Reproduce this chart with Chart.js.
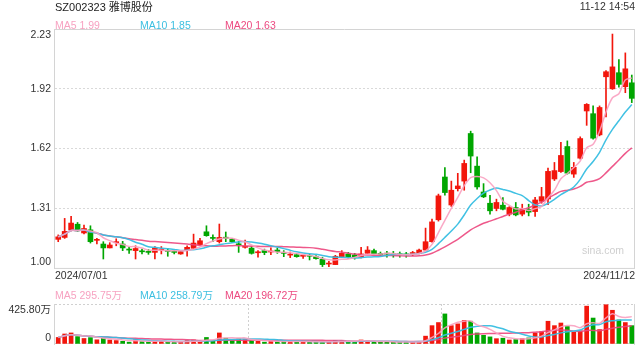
<!DOCTYPE html>
<html><head><meta charset="utf-8">
<script src="https://cdn.jsdelivr.net/npm/chart.js@4.4.1/dist/chart.umd.min.js"></script>
<style>
html,body{margin:0;padding:0;background:#fff;width:640px;height:360px;overflow:hidden;font-family:"Liberation Sans",Arial,"Noto Sans CJK SC",sans-serif;}
canvas{position:absolute;left:0;}
#main{top:0;}
#vol{top:284px;}
.t{position:absolute;white-space:nowrap;font-size:10.5px;line-height:12px;}
</style></head><body>
<canvas id="main" width="640" height="284"></canvas>
<canvas id="vol" width="640" height="76"></canvas>
<div class="t" style="left:55px;top:1px;font-size:11px;color:#222">SZ002323 雅博股份</div>
<div class="t" style="right:5px;top:0px;font-size:10.5px;color:#333">11-12 14:54</div>
<div class="t" style="left:55px;top:18.7px;color:#f7a2c1">MA5 1.99</div>
<div class="t" style="left:140px;top:18.7px;color:#3cbfe0">MA10 1.85</div>
<div class="t" style="left:225px;top:18.7px;color:#ec4a80">MA20 1.63</div>
<div class="t" style="left:582px;top:243.7px;color:#cfcfcf">sina.com</div>
<div class="t" style="left:55px;top:289.4px;color:#f7a2c1">MA5 295.75万</div>
<div class="t" style="left:140px;top:289.4px;color:#3cbfe0">MA10 258.79万</div>
<div class="t" style="left:225px;top:289.4px;color:#ec4a80">MA20 196.72万</div>
<script>
// ---- data ----
const dates = ['07-01','07-02','07-03','07-04','07-05','07-08','07-09','07-10','07-11','07-12','07-15','07-16','07-17','07-18','07-19','07-22','07-23','07-24','07-25','07-26','07-29','07-30','07-31',
'08-01','08-02','08-05','08-06','08-07','08-08','08-09','08-12','08-13','08-14','08-15','08-16','08-19','08-20','08-21','08-22','08-23','08-26','08-27','08-28','08-29','08-30',
'09-02','09-03','09-04','09-05','09-06','09-09','09-10','09-11','09-12','09-13','09-18','09-19','09-20','09-23','09-24','09-25','09-26','09-27','09-30',
'10-08','10-09','10-10','10-11','10-14','10-15','10-16','10-17','10-18','10-21','10-22','10-23','10-24','10-25','10-28','10-29','10-30','10-31',
'11-01','11-04','11-05','11-06','11-07','11-08','11-11','11-12'];
const open  = [1.147,1.157,1.196,1.225,1.180,1.196,1.142,1.123,1.103,1.130,1.123,1.094,1.089,1.085,1.082,1.080,1.092,1.088,1.082,1.072,1.094,1.101,1.120,1.186,1.153,1.135,1.155,1.148,1.121,1.106,
1.102,1.078,1.089,1.082,1.092,1.077,1.066,1.068,1.060,1.062,1.058,1.045,1.020,1.017,1.058,1.072,1.067,1.055,1.075,1.089,1.075,1.072,1.069,1.069,1.068,1.074,1.075,1.092,1.135,1.248,
1.468,1.324,1.408,1.447,1.692,1.524,1.391,1.333,1.306,1.323,1.277,1.311,1.277,1.302,1.290,1.343,1.355,1.458,1.496,1.625,1.483,1.565,1.808,1.794,1.685,1.984,1.922,2.005,1.933,1.953];
const high  = [1.170,1.255,1.265,1.234,1.220,1.217,1.152,1.135,1.130,1.150,1.137,1.106,1.114,1.097,1.095,1.110,1.110,1.100,1.090,1.087,1.114,1.174,1.152,1.217,1.170,1.226,1.185,1.152,1.137,1.143,
1.114,1.089,1.097,1.103,1.103,1.089,1.082,1.075,1.066,1.070,1.063,1.055,1.034,1.065,1.089,1.080,1.075,1.106,1.110,1.097,1.082,1.085,1.085,1.082,1.080,1.085,1.097,1.205,1.251,1.380,
1.516,1.447,1.487,1.555,1.704,1.572,1.434,1.374,1.354,1.362,1.316,1.337,1.328,1.328,1.364,1.415,1.514,1.543,1.646,1.654,1.543,1.675,1.846,1.834,1.834,2.016,2.204,2.073,2.107,1.993];
const low   = [1.135,1.152,1.191,1.188,1.175,1.128,1.123,1.046,1.103,1.114,1.089,1.075,1.046,1.072,1.070,1.046,1.072,1.060,1.072,1.070,1.060,1.097,1.117,1.163,1.135,1.128,1.135,1.130,1.080,1.102,
1.071,1.055,1.068,1.068,1.075,1.058,1.053,1.055,1.049,1.041,1.045,1.007,1.007,1.017,1.055,1.050,1.045,1.051,1.072,1.068,1.063,1.055,1.055,1.055,1.055,1.063,1.072,1.089,1.132,1.241,
1.374,1.316,1.396,1.400,1.490,1.405,1.362,1.277,1.294,1.299,1.268,1.268,1.268,1.268,1.265,1.333,1.326,1.450,1.492,1.483,1.466,1.560,1.734,1.663,1.680,1.777,1.919,1.931,1.902,1.851];
const close = [1.160,1.188,1.231,1.191,1.203,1.135,1.145,1.103,1.118,1.135,1.103,1.092,1.100,1.083,1.080,1.101,1.094,1.085,1.080,1.084,1.106,1.128,1.140,1.166,1.152,1.157,1.153,1.135,1.119,1.108,
1.075,1.080,1.079,1.085,1.084,1.075,1.068,1.058,1.062,1.060,1.048,1.017,1.022,1.060,1.075,1.058,1.055,1.072,1.092,1.072,1.068,1.071,1.068,1.068,1.067,1.076,1.092,1.135,1.237,1.371,
1.388,1.400,1.422,1.538,1.576,1.417,1.366,1.294,1.337,1.302,1.311,1.273,1.306,1.287,1.350,1.367,1.497,1.501,1.579,1.488,1.518,1.666,1.842,1.668,1.826,2.010,2.035,1.945,2.025,1.873];
// volume in 万
const volume = [69,106,117,78,58,67,44,61,42,36,28,19,47,25,19,31,28,22,19,19,36,42,33,69,36,117,61,42,55,47,
36,28,19,28,25,28,28,17,33,19,22,19,22,36,36,28,22,42,33,25,19,22,19,19,19,22,28,83,195,228,
320,195,214,250,242,117,92,75,56,61,42,47,56,64,117,131,242,195,223,186,125,139,403,276,153,418,359,256,228,195];
const priceTicks = [1.00, 1.3075, 1.615, 1.9225, 2.23];
const priceTickLabels = ['1.00','1.31','1.62','1.92','2.23'];
const volTicks = [0, 425.8];
const volTickLabels = ['0','425.80万'];
const dateTickLabels = ['2024/07/01','2024/11/12'];

// ---- helpers ----
function movingAvg(arr, n){
  return arr.map((_, i) => { const s = Math.max(0, i - n + 1); let sum = 0; for (let j = s; j <= i; j++) sum += arr[j]; return sum / (i - s + 1); });
}
const RED = '#f2160c', GREEN = '#00a600';
const candleColor = close.map((c, i) => c >= open[i] ? RED : GREEN);
const MA5C = 'rgba(250,160,192,0.9)', MA10C = 'rgba(55,190,225,0.95)', MA20C = 'rgba(236,70,125,0.9)';
Chart.defaults.font.family = '"Liberation Sans", Arial, "Noto Sans CJK SC", sans-serif';
Chart.defaults.font.size = 10.5;
Chart.defaults.color = '#333';

function endLabel(labels){
  return (v, i) => { const n = labels.length; if (i === 0) return [labels[0], '']; if (i === n - 1) return ['', labels[n - 1]]; return labels[i]; };
}
function frame(sides){
  return { id: 'frame', beforeDatasetsDraw(chart){
    const {ctx, chartArea: a} = chart; ctx.save(); ctx.strokeStyle = '#d4d4d4'; ctx.lineWidth = 1; ctx.beginPath();
    if (sides.includes('l')) { ctx.moveTo(a.left - 0.5, a.top); ctx.lineTo(a.left - 0.5, a.bottom + 1); }
    if (sides.includes('r')) { ctx.moveTo(a.right - 0.5, a.top); ctx.lineTo(a.right - 0.5, a.bottom + 1); }
    if (sides.includes('t')) { ctx.moveTo(a.left - 1, a.top + 0.5); ctx.lineTo(a.right, a.top + 0.5); }
    if (sides.includes('b')) { ctx.moveTo(a.left - 1, a.bottom + 0.5); ctx.lineTo(a.right, a.bottom + 0.5); }
    ctx.stroke(); ctx.restore(); } };
}
function line(data, color){
  return { type: 'line', data, borderColor: color, borderWidth: 1.5, pointRadius: 0, tension: 0.3, fill: false, order: 0, xAxisID: 'x', yAxisID: 'y' };
}
const common = { responsive: false, animation: false, events: [], plugins: { legend: { display: false }, tooltip: { enabled: false } } };

// ---- main price chart ----
new Chart(document.getElementById('main'), {
  type: 'bar',
  data: { labels: dates, datasets: [
    line(movingAvg(close, 5), MA5C), line(movingAvg(close, 10), MA10C), line(movingAvg(close, 20), MA20C),
    { type: 'bar', data: dates.map((d, i) => [open[i], close[i]]), backgroundColor: candleColor, barThickness: 5, minBarLength: 1, grouped: false, order: 1, xAxisID: 'x', yAxisID: 'y' },
    { type: 'bar', data: dates.map((d, i) => [low[i], high[i]]), backgroundColor: candleColor, barThickness: 1, grouped: false, order: 2, xAxisID: 'x', yAxisID: 'y' }
  ]},
  options: Object.assign({}, common, {
    layout: { padding: { top: 29, right: 5, left: 0, bottom: 0 } },
    scales: {
      x: { type: 'category', display: false, offset: true },
      xd: { type: 'linear', position: 'bottom', min: 0, max: 1, offset: false,
        afterBuildTicks: s => { s.ticks = [{value: 0}, {value: 1}]; },
        afterFit: s => { s.height = 15; },
        grid: { display: false, drawTicks: false, offset: false }, border: { display: false },
        ticks: { align: 'inner', padding: 2, maxRotation: 0, autoSkip: false, color: '#333', callback: (v, i) => dateTickLabels[i] } },
      y: { type: 'linear', min: 1.00, max: 2.23,
        afterBuildTicks: s => { s.ticks = priceTicks.map(v => ({value: v})); },
        afterFit: s => { s.width = 55; },
        grid: { drawTicks: false, lineWidth: 1, color: c => (c.index > 0 && c.index < priceTicks.length - 1) ? '#d9d9d9' : 'rgba(0,0,0,0)' },
        border: { display: false, dash: [2, 2] },
        ticks: { padding: 4, color: '#333', font: { lineHeight: 1.15 }, callback: endLabel(priceTickLabels) } }
    }
  }),
  plugins: [frame('lrtb')]
});

// ---- volume chart ----
new Chart(document.getElementById('vol'), {
  type: 'bar',
  data: { labels: dates, datasets: [
    line(movingAvg(volume, 5), MA5C), line(movingAvg(volume, 10), MA10C), line(movingAvg(volume, 20), MA20C),
    { type: 'bar', data: volume, backgroundColor: candleColor, barThickness: 4, order: 1, xAxisID: 'x', yAxisID: 'y' }
  ]},
  options: Object.assign({}, common, {
    layout: { padding: { top: 20, right: 5, left: 0, bottom: 5 } },
    scales: {
      x: { type: 'category', display: false, offset: true },
      xg: { type: 'linear', position: 'bottom', min: 0, max: 1, offset: false,
        afterBuildTicks: s => { s.ticks = [0, 1/3, 2/3, 1].map(v => ({value: v})); },
        afterFit: s => { s.height = 0; },
        ticks: { display: false },
        grid: { drawTicks: false, offset: false, color: c => (c.index === 1 || c.index === 2) ? '#d0d0d0' : 'rgba(0,0,0,0)' },
        border: { display: false, dash: [2, 2] } },
      y: { type: 'linear', min: 0, max: 425.8,
        afterBuildTicks: s => { s.ticks = volTicks.map(v => ({value: v})); },
        afterFit: s => { s.width = 55; },
        grid: { drawTicks: false, color: '#d0d0d0' },
        border: { display: false, dash: [2, 2] },
        ticks: { padding: 4, color: '#333', font: { lineHeight: 1.15 }, callback: endLabel(volTickLabels) } }
    }
  }),
  plugins: [frame('lr')]
});
</script>
</body></html>
